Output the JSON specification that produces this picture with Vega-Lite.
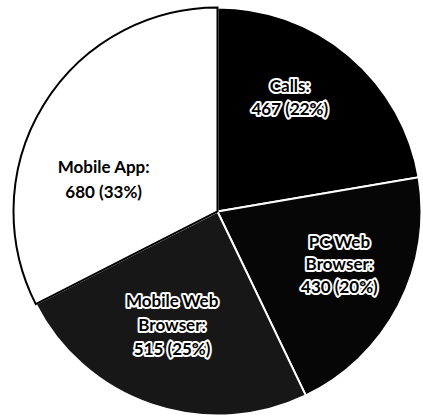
{
  "$schema": "https://vega.github.io/schema/vega-lite/v6.json",
  "width": 423,
  "height": 417,
  "autosize": {"type": "fit", "contains": "padding"},
  "padding": {"left": 12, "top": 6, "right": 0, "bottom": 0},
  "background": "#ffffff",
  "view": {"stroke": null},
  "data": {
    "values": [
      {"category": "Calls", "value": 467, "order": 1, "label": "Calls:\n467 (22%)"},
      {"category": "PC Web Browser", "value": 430, "order": 2, "label": "PC Web\nBrowser:\n430 (20%)"},
      {"category": "Mobile Web Browser", "value": 515, "order": 3, "label": "Mobile Web\nBrowser:\n515 (25%)"},
      {"category": "Mobile App", "value": 680, "order": 4, "label": "Mobile App:\n680 (33%)"}
    ]
  },
  "encoding": {
    "theta": {"field": "value", "type": "quantitative", "stack": true},
    "order": {"field": "order", "type": "quantitative"}
  },
  "layer": [
    {
      "mark": {"type": "arc", "outerRadius": 204, "strokeWidth": 2},
      "encoding": {
        "color": {"field": "category", "type": "nominal", "legend": null,
          "scale": {"domain": ["Calls", "PC Web Browser", "Mobile Web Browser", "Mobile App"], "range": ["#000000", "#060606", "#171717", "#ffffff"]}},
        "stroke": {"field": "category", "type": "nominal", "legend": null,
          "scale": {"domain": ["Calls", "PC Web Browser", "Mobile Web Browser", "Mobile App"], "range": ["#ffffff", "#ffffff", "#ffffff", "#000000"]}}
      }
    },
    {
      "mark": {"type": "text", "radius": 134, "thetaOffset": -0.131, "dy": -11.5, "lineBreak": "\n", "lineHeight": 23, "font": "Lato", "fontWeight": "bold", "fontSize": 17, "fill": "#ffffff", "stroke": "#ffffff", "strokeWidth": 4, "strokeJoin": "round", "baseline": "middle", "align": "center"},
      "encoding": {"text": {"condition": {"test": "datum.category === 'Calls'", "field": "label", "type": "nominal"}, "value": ""}}
    },
    {
      "mark": {"type": "text", "radius": 134, "thetaOffset": -0.131, "dy": -11.5, "lineBreak": "\n", "lineHeight": 23, "font": "Lato", "fontWeight": "bold", "fontSize": 17, "fill": "#000000", "baseline": "middle", "align": "center"},
      "encoding": {"text": {"condition": {"test": "datum.category === 'Calls'", "field": "label", "type": "nominal"}, "value": ""}}
    },
    {
      "mark": {"type": "text", "radius": 133, "thetaOffset": -0.066, "dy": -22, "lineBreak": "\n", "lineHeight": 22.5, "font": "Lato", "fontWeight": "bold", "fontSize": 17, "fill": "#ffffff", "stroke": "#ffffff", "strokeWidth": 4, "strokeJoin": "round", "baseline": "middle", "align": "center"},
      "encoding": {"text": {"condition": {"test": "datum.category === 'PC Web Browser'", "field": "label", "type": "nominal"}, "value": ""}}
    },
    {
      "mark": {"type": "text", "radius": 133, "thetaOffset": -0.066, "dy": -22, "lineBreak": "\n", "lineHeight": 22.5, "font": "Lato", "fontWeight": "bold", "fontSize": 17, "fill": "#000000", "baseline": "middle", "align": "center"},
      "encoding": {"text": {"condition": {"test": "datum.category === 'PC Web Browser'", "field": "label", "type": "nominal"}, "value": ""}}
    },
    {
      "mark": {"type": "text", "radius": 123, "thetaOffset": 0.052, "dy": -23.5, "lineBreak": "\n", "lineHeight": 24, "font": "Lato", "fontWeight": "bold", "fontSize": 17, "fill": "#ffffff", "stroke": "#ffffff", "strokeWidth": 4, "strokeJoin": "round", "baseline": "middle", "align": "center"},
      "encoding": {"text": {"condition": {"test": "datum.category === 'Mobile Web Browser'", "field": "label", "type": "nominal"}, "value": ""}}
    },
    {
      "mark": {"type": "text", "radius": 123, "thetaOffset": 0.052, "dy": -23.5, "lineBreak": "\n", "lineHeight": 24, "font": "Lato", "fontWeight": "bold", "fontSize": 17, "fill": "#000000", "baseline": "middle", "align": "center"},
      "encoding": {"text": {"condition": {"test": "datum.category === 'Mobile Web Browser'", "field": "label", "type": "nominal"}, "value": ""}}
    },
    {
      "mark": {"type": "text", "radius": 118, "thetaOffset": -0.283, "dy": -12.5, "lineBreak": "\n", "lineHeight": 25, "font": "Lato", "fontWeight": "bold", "fontSize": 17, "fill": "#000000", "baseline": "middle", "align": "center"},
      "encoding": {"text": {"condition": {"test": "datum.category === 'Mobile App'", "field": "label", "type": "nominal"}, "value": ""}}
    }
  ]
}
